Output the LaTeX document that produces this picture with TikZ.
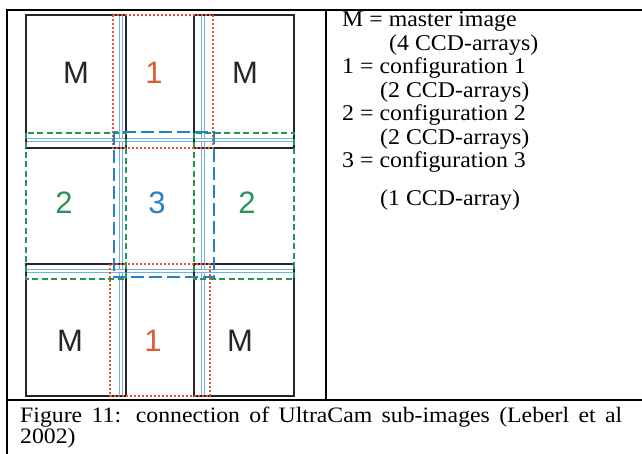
\documentclass[tikz,border=0pt]{standalone}
\usepackage{fontspec}
\setmainfont{Liberation Serif}
\newfontfamily\tilefont{Liberation Sans}
\usetikzlibrary{positioning}

\definecolor{confred}{RGB}{226,88,48}
\definecolor{confgreen}{RGB}{38,150,88}
\definecolor{confblue}{RGB}{42,128,192}
\definecolor{seamblue}{RGB}{112,178,222}
\definecolor{framegray}{RGB}{38,38,38}

\begin{document}
\begin{tikzpicture}[x=1pt,y=-1pt,
  rule/.style={draw=black,line width=2.2pt},
  master/.style={draw=framegray,line width=2.4pt},
  seam/.style={draw=seamblue,line width=0.9pt,double=white,double distance=1.6pt},
  conf one/.style={draw=confred,line width=2.1pt,dash pattern=on 1.8pt off 2.2pt},
  conf two/.style={draw=confgreen,line width=2.1pt,dash pattern=on 6pt off 3.5pt},
  conf three/.style={draw=confblue,line width=2.5pt,dash pattern=on 13pt off 5pt},
  tile label/.style={font=\tilefont\fontsize{31}{31}\selectfont,inner sep=0pt},
  legend/.style={anchor=base west,inner sep=0pt,xscale=1.06,font=\fontsize{22.5}{23}\selectfont}]
  \useasboundingbox (0,0) rectangle (642,454);

  % table
  \draw[rule] (7,10) -- (642,10);
  \draw[rule] (7,9) -- (7,454);
  \draw[rule] (326,10) -- (326,400);
  \draw[rule] (7,400) -- (642,400);

  % seams between the arrays
  \draw[seam] (121,15) -- (121,396);
  \draw[seam] (203,15) -- (203,396);
  \draw[seam] (26,140) -- (294,140);
  \draw[seam] (26,271) -- (294,271);

  % master image
  \draw[master] (26,15) rectangle (126,148);
  \draw[master] (194,15) rectangle (294,148);
  \draw[master] (26,264) rectangle (126,396);
  \draw[master] (194,264) rectangle (294,396);

  % configurations
  \draw[conf two] (26,133) rectangle (126,279);
  \draw[conf two] (194,133) rectangle (294,279);
  \draw[conf one] (113,15) rectangle (213,148);
  \draw[conf one] (110,264) rectangle (210,396);
  \draw[conf three] (114,132) rectangle (214,277);

  \node[tile label,text=framegray] (m1) at (76,73) {M};
  \node[tile label,text=confred] (c1top) at (154,73) {1};
  \node[tile label,text=framegray] (m2) at (245,73) {M};
  \node[tile label,text=confgreen] (c2left) at (64,203) {2};
  \node[tile label,text=confblue] (c3) at (157,203) {3};
  \node[tile label,text=confgreen] (c2right) at (247,203) {2};
  \node[tile label,text=framegray] (m3) at (70,341) {M};
  \node[tile label,text=confred] (c1bot) at (153,341) {1};
  \node[tile label,text=framegray] (m4) at (240,341) {M};

  % legend
  \node[legend] (lm) at (342,27) {M = master image};
  \node[legend] (lm2) at (389,50.5) {(4 CCD-arrays)};
  \node[legend] (l1) at (342,74) {1 = configuration 1};
  \node[legend] (l12) at (380,97.5) {(2 CCD-arrays)};
  \node[legend] (l2) at (342,121) {2 = configuration 2};
  \node[legend] (l22) at (380,144.5) {(2 CCD-arrays)};
  \node[legend] (l3) at (342,168) {3 = configuration 3};
  \node[legend] (l32) at (380,206) {(1 CCD-array)};

  % caption
  \node[anchor=north west,inner sep=0pt,xscale=1.08,text width=557.4pt,align=justify,
    font=\fontsize{22}{21}\selectfont] (caption) at (20,407)
    {Figure 11: connection of UltraCam sub-images (Leberl et al\linebreak 2002)};
\end{tikzpicture}
\end{document}
